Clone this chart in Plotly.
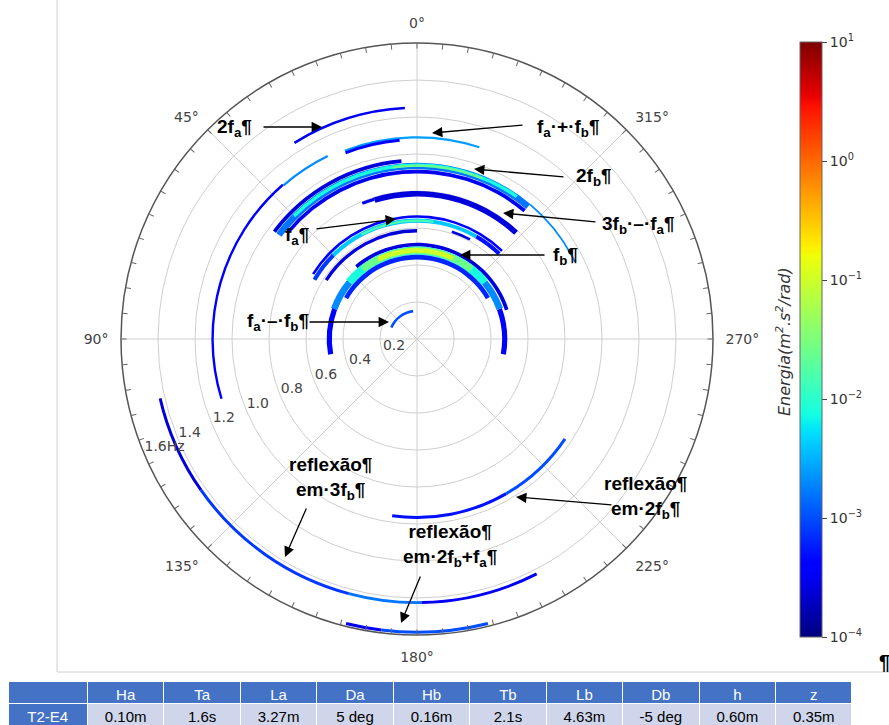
import plotly.graph_objects as go

# ---------------- data ----------------
# spectral arc segments: frequency (Hz), direction span (deg), radial band (Hz), log10 energy
seg_freq = [0.152,
            0.510, 0.474, 0.476, 0.4775, 0.476, 0.474, 0.478, 0.479, 0.4425,
            0.662, 0.640, 0.640, 0.640, 0.640, 0.585, 0.610,
            0.785, 0.790,
            0.965, 0.935, 0.940, 0.937, 0.905, 0.950,
            1.090, 1.078, 1.100, 1.105,
            1.250,
            1.425, 1.425, 1.425, 1.425,
            1.585, 1.585,
            0.965, 0.965]
seg_theta0 = [8,
              -72, -100, -70, -50, 50, 70, -38, -24, -60,
              -44, -44, -30, 45, -8, 0, -28,
              -43, 17,
              5, -40, -35, -22, -40, -64,
              -18, 5, 26, 41,
              3,
              103, 125, 165, 181,
              166, 173,
              172, 210]
seg_theta1 = [66,
              40, -70, -50, 50, 70, 100, 38, 26, 60,
              58, -30, 45, 60, 28, 57, -18,
              17, 22,
              53, 53, 45, 8, 50, -40,
              21, 21, 41, 107,
              32,
              125, 165, 181, 207,
              173, 194,
              210, 236]
seg_band = [0.014,
            0.020, 0.028, 0.036, 0.045, 0.036, 0.028, 0.038, 0.025, 0.025,
            0.014, 0.022, 0.022, 0.022, 0.012, 0.018, 0.014,
            0.030, 0.016,
            0.020, 0.035, 0.018, 0.012, 0.020, 0.010,
            0.012, 0.016, 0.012, 0.013,
            0.014,
            0.016, 0.016, 0.016, 0.016,
            0.016, 0.016,
            0.016, 0.016]
seg_logE = [-3.0,
            -3.6, -3.4, -2.7, -2.1, -2.7, -3.4, -1.6, -1.0, -3.2,
            -3.4, -3.3, -2.4, -3.1, -1.8, -3.6, -3.6,
            -3.6, -3.5,
            -3.6, -2.8, -2.1, -1.6, -3.5, -2.7,
            -2.6, -3.4, -2.7, -3.4,
            -3.5,
            -3.6, -3.1, -2.8, -3.5,
            -3.5, -3.0,
            -3.3, -3.0]

angle_ticks = [0, 45, 90, 135, 180, 225, 270, 315]
radial_ticks = [0.2, 0.4, 0.6, 0.8, 1.0, 1.2, 1.4, 1.6]
radial_labels = ["0.2", "0.4", "0.6", "0.8", "1.0", "1.2", "1.4", "1.6Hz"]
radial_label_dir = 113  # direction (deg) along which radial labels are written
cbar_ticks = [-4, -3, -2, -1, 0, 1]
cbar_labels = ["10<sup>−4</sup>", "10<sup>−3</sup>", "10<sup>−2</sup>",
               "10<sup>−1</sup>", "10<sup>0</sup>", "10<sup>1</sup>"]

table_header = ["", "Ha", "Ta", "La", "Da", "Hb", "Tb", "Lb", "Db", "h", "z"]
table_row = ["T2-E4", "0.10m", "1.6s", "3.27m", "5 deg", "0.16m", "2.1s",
             "4.63m", "-5 deg", "0.60m", "0.35m"]

# ---------------- styling ----------------
W, H = 889, 725
jet = [[0.0, "rgb(0,0,127)"], [0.11, "rgb(0,0,255)"], [0.125, "rgb(0,0,255)"],
       [0.34, "rgb(0,219,255)"], [0.35, "rgb(0,230,247)"], [0.375, "rgb(21,255,226)"],
       [0.64, "rgb(239,255,8)"], [0.65, "rgb(247,245,0)"], [0.66, "rgb(255,236,0)"],
       [0.89, "rgb(255,19,0)"], [0.91, "rgb(232,0,0)"], [1.0, "rgb(127,0,0)"]]

def px(x):
    return x / W

def py(y):
    return (H - y) / H

theta_c = [(a + b) / 2 for a, b in zip(seg_theta0, seg_theta1)]
widths = [b - a for a, b in zip(seg_theta0, seg_theta1)]
bases = [f - b / 2 for f, b in zip(seg_freq, seg_band)]

fig = go.Figure()
fig.add_trace(go.Barpolar(
    r=seg_band, base=bases, theta=theta_c, width=widths,
    marker=dict(color=seg_logE, colorscale=jet, cmin=-4, cmax=1, line=dict(width=0),
                showscale=True,
                colorbar=dict(x=px(800), xanchor="left", xpad=0, ypad=0,
                              y=py(339.5), yanchor="middle", len=595 / H, lenmode="fraction",
                              thickness=22, outlinewidth=1, outlinecolor="#666",
                              tickvals=cbar_ticks, ticktext=cbar_labels,
                              ticks="outside", ticklen=5, tickcolor="#444",
                              tickfont=dict(family="DejaVu Sans", size=14, color="#333"))),
    hoverinfo="skip", subplot="polar"))

# radial tick labels written along one direction, placed by the polar scale
fig.add_trace(go.Scatterpolar(
    r=radial_ticks, theta=[radial_label_dir] * len(radial_ticks), text=radial_labels,
    mode="text", textposition="top right", cliponaxis=False,
    textfont=dict(family="DejaVu Sans", size=14, color="#444"),
    hoverinfo="skip", subplot="polar", showlegend=False))

fig.add_trace(go.Scatterpolar(r=[0], theta=[0], mode="markers",
                              marker=dict(opacity=0), hoverinfo="skip",
                              subplot="polar2", showlegend=False))

dom = dict(x=[px(121), px(713)], y=[py(635), py(43)])
fig.update_layout(
    width=W, height=H, margin=dict(l=0, r=0, t=0, b=0),
    paper_bgcolor="white", showlegend=False,
    polar=dict(
        domain=dom, bgcolor="white",
        angularaxis=dict(rotation=90, direction="counterclockwise",
                         tickvals=angle_ticks, ticktext=[f"{a}°" for a in angle_ticks],
                         ticks="outside", ticklen=9, tickcolor="rgba(0,0,0,0)",
                         showline=True, linecolor="#555", linewidth=1.5,
                         gridcolor="#cfcfcf", gridwidth=1,
                         tickfont=dict(family="DejaVu Sans", size=14, color="#444")),
        radialaxis=dict(range=[0, 1.6], tickvals=radial_ticks, showticklabels=False,
                        showline=False, ticks="", gridcolor="#cfcfcf")),
    polar2=dict(
        domain=dom, bgcolor="rgba(0,0,0,0)",
        angularaxis=dict(rotation=90, direction="counterclockwise",
                         tickvals=list(range(0, 360, 5)), ticks="inside", ticklen=5,
                         tickcolor="#666", showticklabels=False, showgrid=False,
                         showline=False),
        radialaxis=dict(visible=False, range=[0, 1.6])),
)

lab_font = dict(family="Liberation Sans", size=19, color="black")
labels = [
    ("<b>2f<sub>a</sub>¶</b>", 234, 128),
    ("<b>f<sub>a</sub>·+·f<sub>b</sub>¶</b>", 568, 128),
    ("<b>2f<sub>b</sub>¶</b>", 594, 177),
    ("<b>3f<sub>b</sub>·–·f<sub>a</sub>¶</b>", 638, 225),
    ("<b>f<sub>a</sub>¶</b>", 297, 236),
    ("<b>f<sub>b</sub>¶</b>", 565, 256),
    ("<b>f<sub>a</sub>·–·f<sub>b</sub>¶</b>", 278, 322),
    ("<b>reflexão¶<br>em·3f<sub>b</sub>¶</b>", 330, 479),
    ("<b>reflexão¶<br>em·2f<sub>b</sub>¶</b>", 645, 498),
    ("<b>reflexão¶<br>em·2f<sub>b</sub>+f<sub>a</sub>¶</b>", 450, 545),
]
for t, x, y in labels:
    fig.add_annotation(text=t, x=px(x), y=py(y), xref="paper", yref="paper",
                       xanchor="center", yanchor="middle",
                       showarrow=False, font=lab_font, align="center")

arrows = [  # tail (x, y) -> tip (x, y) in pixels
    (262, 127, 322, 127),
    (524, 125, 432, 133),
    (565, 177, 474, 169),
    (597, 222, 503, 213),
    (315, 229, 396, 219),
    (546, 255, 460, 255),
    (308, 322, 389, 322),
    (307, 507, 285, 557),
    (613, 505, 516, 497),
    (421, 575, 401, 623),
]
for x0, y0, x1, y1 in arrows:
    fig.add_annotation(text="", x=px(x1), y=py(y1), xref="paper", yref="paper",
                       ax=x0 - x1, ay=y0 - y1, showarrow=True, arrowhead=2,
                       arrowsize=1.6, arrowwidth=1.3, arrowcolor="black", standoff=0)

fig.add_annotation(text="<i>Energia(m<sup>2</sup>.s<sup>2</sup>/rad)</i>", x=px(783), y=py(342),
                   xref="paper", yref="paper", showarrow=False, textangle=-90,
                   xanchor="center", yanchor="middle",
                   font=dict(family="DejaVu Sans", size=16, color="#333"))
fig.add_annotation(text="<b>¶</b>", x=px(884), y=py(662), xref="paper", yref="paper",
                   xanchor="center", yanchor="middle",
                   showarrow=False, font=dict(family="Liberation Sans", size=20, color="black"))

fig.add_shape(type="line", xref="paper", yref="paper", x0=px(57), x1=px(57), y0=py(672), y1=1,
              line=dict(color="#d0d0d0", width=1))
fig.add_shape(type="line", xref="paper", yref="paper", x0=px(57), x1=1, y0=py(672), y1=py(672),
              line=dict(color="#d0d0d0", width=1))

cell_fill = [["#4472C4"]] + [["#CFD5EA"]] * 10
cell_font_color = [["white"]] + [["black"]] * 10
fig.add_trace(go.Table(
    domain=dict(x=[px(8), px(852)], y=[0, py(681)]),
    columnwidth=[80] + [77] * 10,
    header=dict(values=table_header, fill_color="#4472C4", line_color="white",
                font=dict(family="Liberation Sans", size=15, color="white"),
                height=22, align="center"),
    cells=dict(values=[[v] for v in table_row], fill_color=cell_fill, line_color="white",
               font=dict(family="Liberation Sans", size=15, color=cell_font_color),
               height=22, align="center")))

fig.write_html("out.html", config={"displayModeBar": False},
               post_script="document.body.style.margin='0';document.body.style.overflow='hidden';")
